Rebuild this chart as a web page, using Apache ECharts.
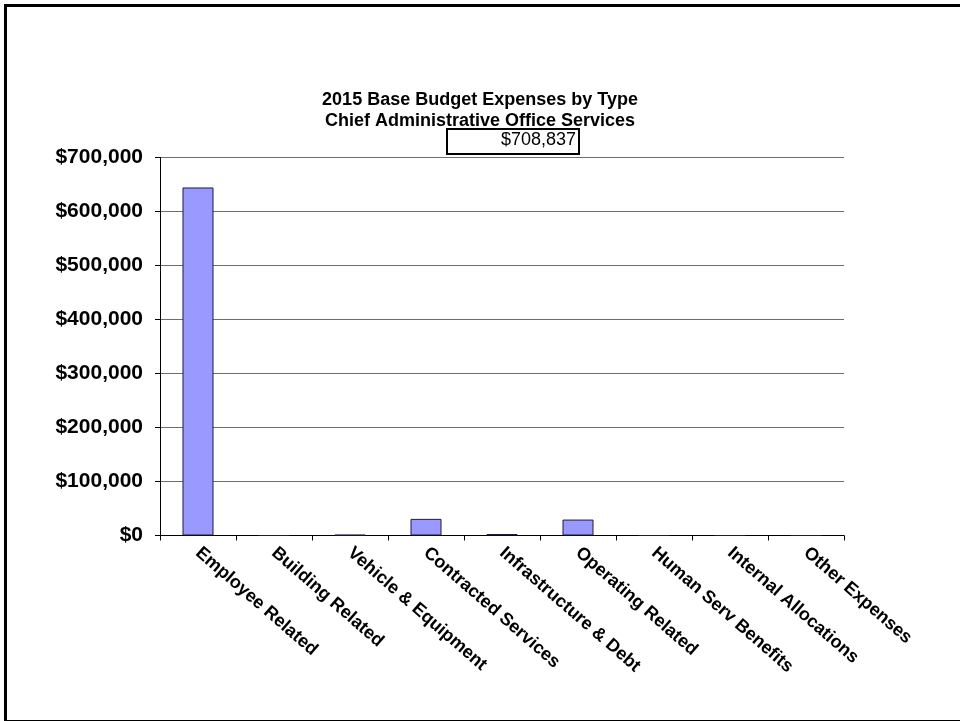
<!DOCTYPE html>
<html>
<head>
<meta charset="utf-8">
<title>2015 Base Budget Expenses by Type</title>
<script src="https://cdn.jsdelivr.net/npm/echarts@6/dist/echarts.min.js"></script>
<style>
  html, body { margin: 0; padding: 0; background: #ffffff; }
  #chart { width: 960px; height: 721px; }
</style>
</head>
<body>
<div id="chart"></div>
<script>
// Expense categories and amounts (USD)
const categories = [
  'Employee Related', 'Building Related', 'Vehicle & Equipment',
  'Contracted Services', 'Infrastructure & Debt', 'Operating Related',
  'Human Serv Benefits', 'Internal Allocations', 'Other Expenses'
];
const amounts = [644500, 0, 1300, 30800, 2737, 29500, 0, 0, 0];
const titleLines = ['2015 Base Budget Expenses by Type', 'Chief Administrative Office Services'];
const yMax = 700000;
const yStep = 100000;

const money = v => '$' + Math.round(v).toLocaleString('en-US');
const total = amounts.reduce((a, b) => a + b, 0);

const chart = echarts.init(document.getElementById('chart'), null, { renderer: 'canvas' });
const FONT = '"Liberation Sans", Arial, sans-serif';

chart.setOption({
  backgroundColor: '#ffffff',
  animation: false,
  title: {
    text: titleLines.join('\n'),
    left: 475,
    top: 85,
    textAlign: 'center',
    textStyle: { fontFamily: FONT, fontSize: 18, fontWeight: 'bold', color: '#000', lineHeight: 21 }
  },
  grid: { left: 160, right: 116, top: 157.5, bottom: 185.5, containLabel: false },
  xAxis: {
    type: 'category',
    data: categories,
    axisLine: { lineStyle: { color: '#000', width: 1 } },
    axisTick: { show: true, length: 5, alignWithLabel: false, lineStyle: { color: '#000' } },
    axisLabel: {
      interval: 0, rotate: -41, margin: 15,
      fontFamily: FONT, fontSize: 18, fontWeight: 'bold', color: '#000'
    }
  },
  yAxis: {
    type: 'value',
    min: 0, max: yMax, interval: yStep,
    axisLine: { show: true, lineStyle: { color: '#000', width: 1 } },
    axisTick: { show: true, length: 5, lineStyle: { color: '#000' } },
    splitLine: { show: true, lineStyle: { color: '#6e6e6e', width: 1 } },
    axisLabel: {
      margin: 17, formatter: money,
      fontFamily: FONT, fontSize: 21, fontWeight: 'bold', color: '#000'
    }
  },
  series: [{
    type: 'bar',
    data: amounts,
    barWidth: 31,
    itemStyle: { color: '#9999ff', borderColor: '#1a1a40', borderWidth: 1 }
  }],
  graphic: [
    {
      type: 'rect', left: 3, top: 3, z: 100,
      shape: { width: 970, height: 716 },
      style: { fill: 'none', stroke: '#000', lineWidth: 3 }
    },
    {
      type: 'rect', left: 446, top: 128, z: 100,
      shape: { width: 132, height: 25 },
      style: { fill: '#ffffff', stroke: '#000', lineWidth: 2 }
    },
    {
      type: 'text', right: 960 - 576, top: 131, z: 101,
      style: { text: money(total), fontFamily: FONT, fontSize: 18, fill: '#000' }
    }
  ]
});
</script>
</body>
</html>
